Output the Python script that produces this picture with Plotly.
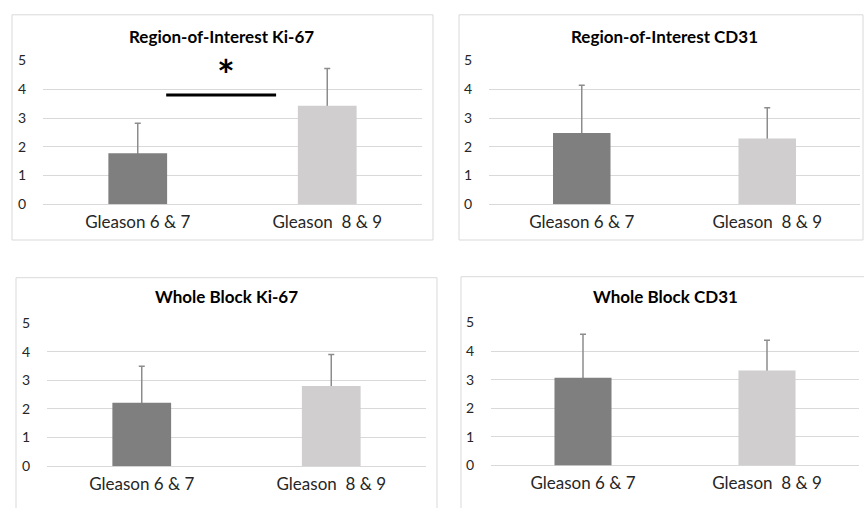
import plotly.graph_objects as go

W, H = 864, 508

categories = ["Gleason 6 & 7", "Gleason\u00a0 8 & 9"]
titles = ["Region-of-Interest Ki-67", "Region-of-Interest CD31",
          "Whole Block Ki-67", "Whole Block CD31"]
means = [
    [1.77, 3.43],   # ROI Ki-67
    [2.48, 2.29],   # ROI CD31
    [2.22, 2.80],   # Whole Block Ki-67
    [3.07, 3.32],   # Whole Block CD31
]
errors_plus = [
    [1.05, 1.29],
    [1.66, 1.07],
    [1.27, 1.10],
    [1.52, 1.06],
]
y_ticks = [0, 1, 2, 3, 4, 5]
bar_colors = ["#7f7f7f", "#d0cece"]

# significance marker on panel 1 (category-axis coordinates)
sig_span = [0.15, 0.73]
sig_level = 3.8
sig_star_x = 0.466
sig_star_y = 4.5

# layout in pixels: (plot left, plot right, plot top, plot bottom)
plot_px = [
    (43, 422, 53.3, 202),
    (489, 860, 53.3, 202),
    (47, 426, 325, 473),
    (491, 859, 324.3, 472.3),
]
box_px = [
    (12, 433, 6, 239),
    (459, 863, 6, 239),
    (16, 437, 278, 530),
    (461, 880, 277, 530),
]
title_px = [(222, 28), (664, 28), (227, 297), (665, 297)]

FONT = "Lato"
fig = go.Figure()
shapes = []
annotations = []

for i in range(4):
    xa = "x" if i == 0 else f"x{i+1}"
    ya = "y" if i == 0 else f"y{i+1}"
    # error bars only (hidden bars); their lower end is covered by the visible bars
    fig.add_trace(go.Bar(
        x=categories, y=means[i],
        marker=dict(color="rgba(0,0,0,0)", line=dict(width=0)),
        error_y=dict(type="data", symmetric=False, array=errors_plus[i],
                     arrayminus=[m / 2 for m in means[i]], color="#8c8c8c",
                     thickness=1.5, width=3),
        xaxis=xa, yaxis=ya, showlegend=False, width=0.31, hoverinfo="skip",
    ))
    fig.add_trace(go.Bar(
        x=categories, y=means[i],
        marker=dict(color=bar_colors, line=dict(width=0)),
        xaxis=xa, yaxis=ya, showlegend=False, width=0.31,
    ))
    l, r, t, b = plot_px[i]
    xkey = "xaxis" if i == 0 else f"xaxis{i+1}"
    ykey = "yaxis" if i == 0 else f"yaxis{i+1}"
    fig.update_layout(**{
        xkey: dict(domain=[l / W, r / W], anchor=ya, showgrid=False,
                   showline=False, zeroline=False, ticks="",
                   tickfont=dict(family=FONT, size=17, color="#262626"),
                   ticklabelstandoff=6, range=[-0.5, 1.5]),
        ykey: dict(domain=[1 - b / H, 1 - t / H], anchor=xa, range=[0, 5],
                   tickvals=y_ticks, showgrid=True, gridcolor="#d9d9d9",
                   gridwidth=1, zeroline=True, zerolinecolor="#d9d9d9",
                   zerolinewidth=1, showline=False, ticks="",
                   tickfont=dict(family=FONT, size=14, color="#262626"),
                   ticklabelstandoff=16),
    })
    bl, br, bt, bb = box_px[i]
    shapes.append(dict(type="rect", xref="paper", yref="paper",
                       x0=bl / W, x1=br / W, y0=1 - bb / H, y1=1 - bt / H,
                       line=dict(color="#d9d9d9", width=1), layer="below"))
    tx, ty = title_px[i]
    annotations.append(dict(text=f"<b>{titles[i]}</b>", xref="paper", yref="paper",
                            x=tx / W, y=1 - ty / H, xanchor="center", yanchor="middle",
                            showarrow=False,
                            font=dict(family=FONT, size=17, color="#000000")))

shapes.append(dict(type="line", xref="x", yref="y", x0=sig_span[0], x1=sig_span[1],
                   y0=sig_level, y1=sig_level, line=dict(color="#000000", width=3)))
annotations.append(dict(text="<b>*</b>", xref="x", yref="y", x=sig_star_x, y=sig_star_y,
                        xanchor="center", yanchor="middle", showarrow=False,
                        font=dict(family=FONT, size=42, color="#000000")))

fig.update_layout(
    width=W, height=H, margin=dict(l=0, r=0, t=0, b=0),
    paper_bgcolor="white", plot_bgcolor="white",
    shapes=shapes, annotations=annotations, barmode="overlay",
)

fig.write_html(
    "out.html",
    config={"responsive": False, "displayModeBar": False},
    post_script="document.body.style.margin='0';document.body.style.padding='0';"
                "document.documentElement.style.overflow='hidden';",
)
